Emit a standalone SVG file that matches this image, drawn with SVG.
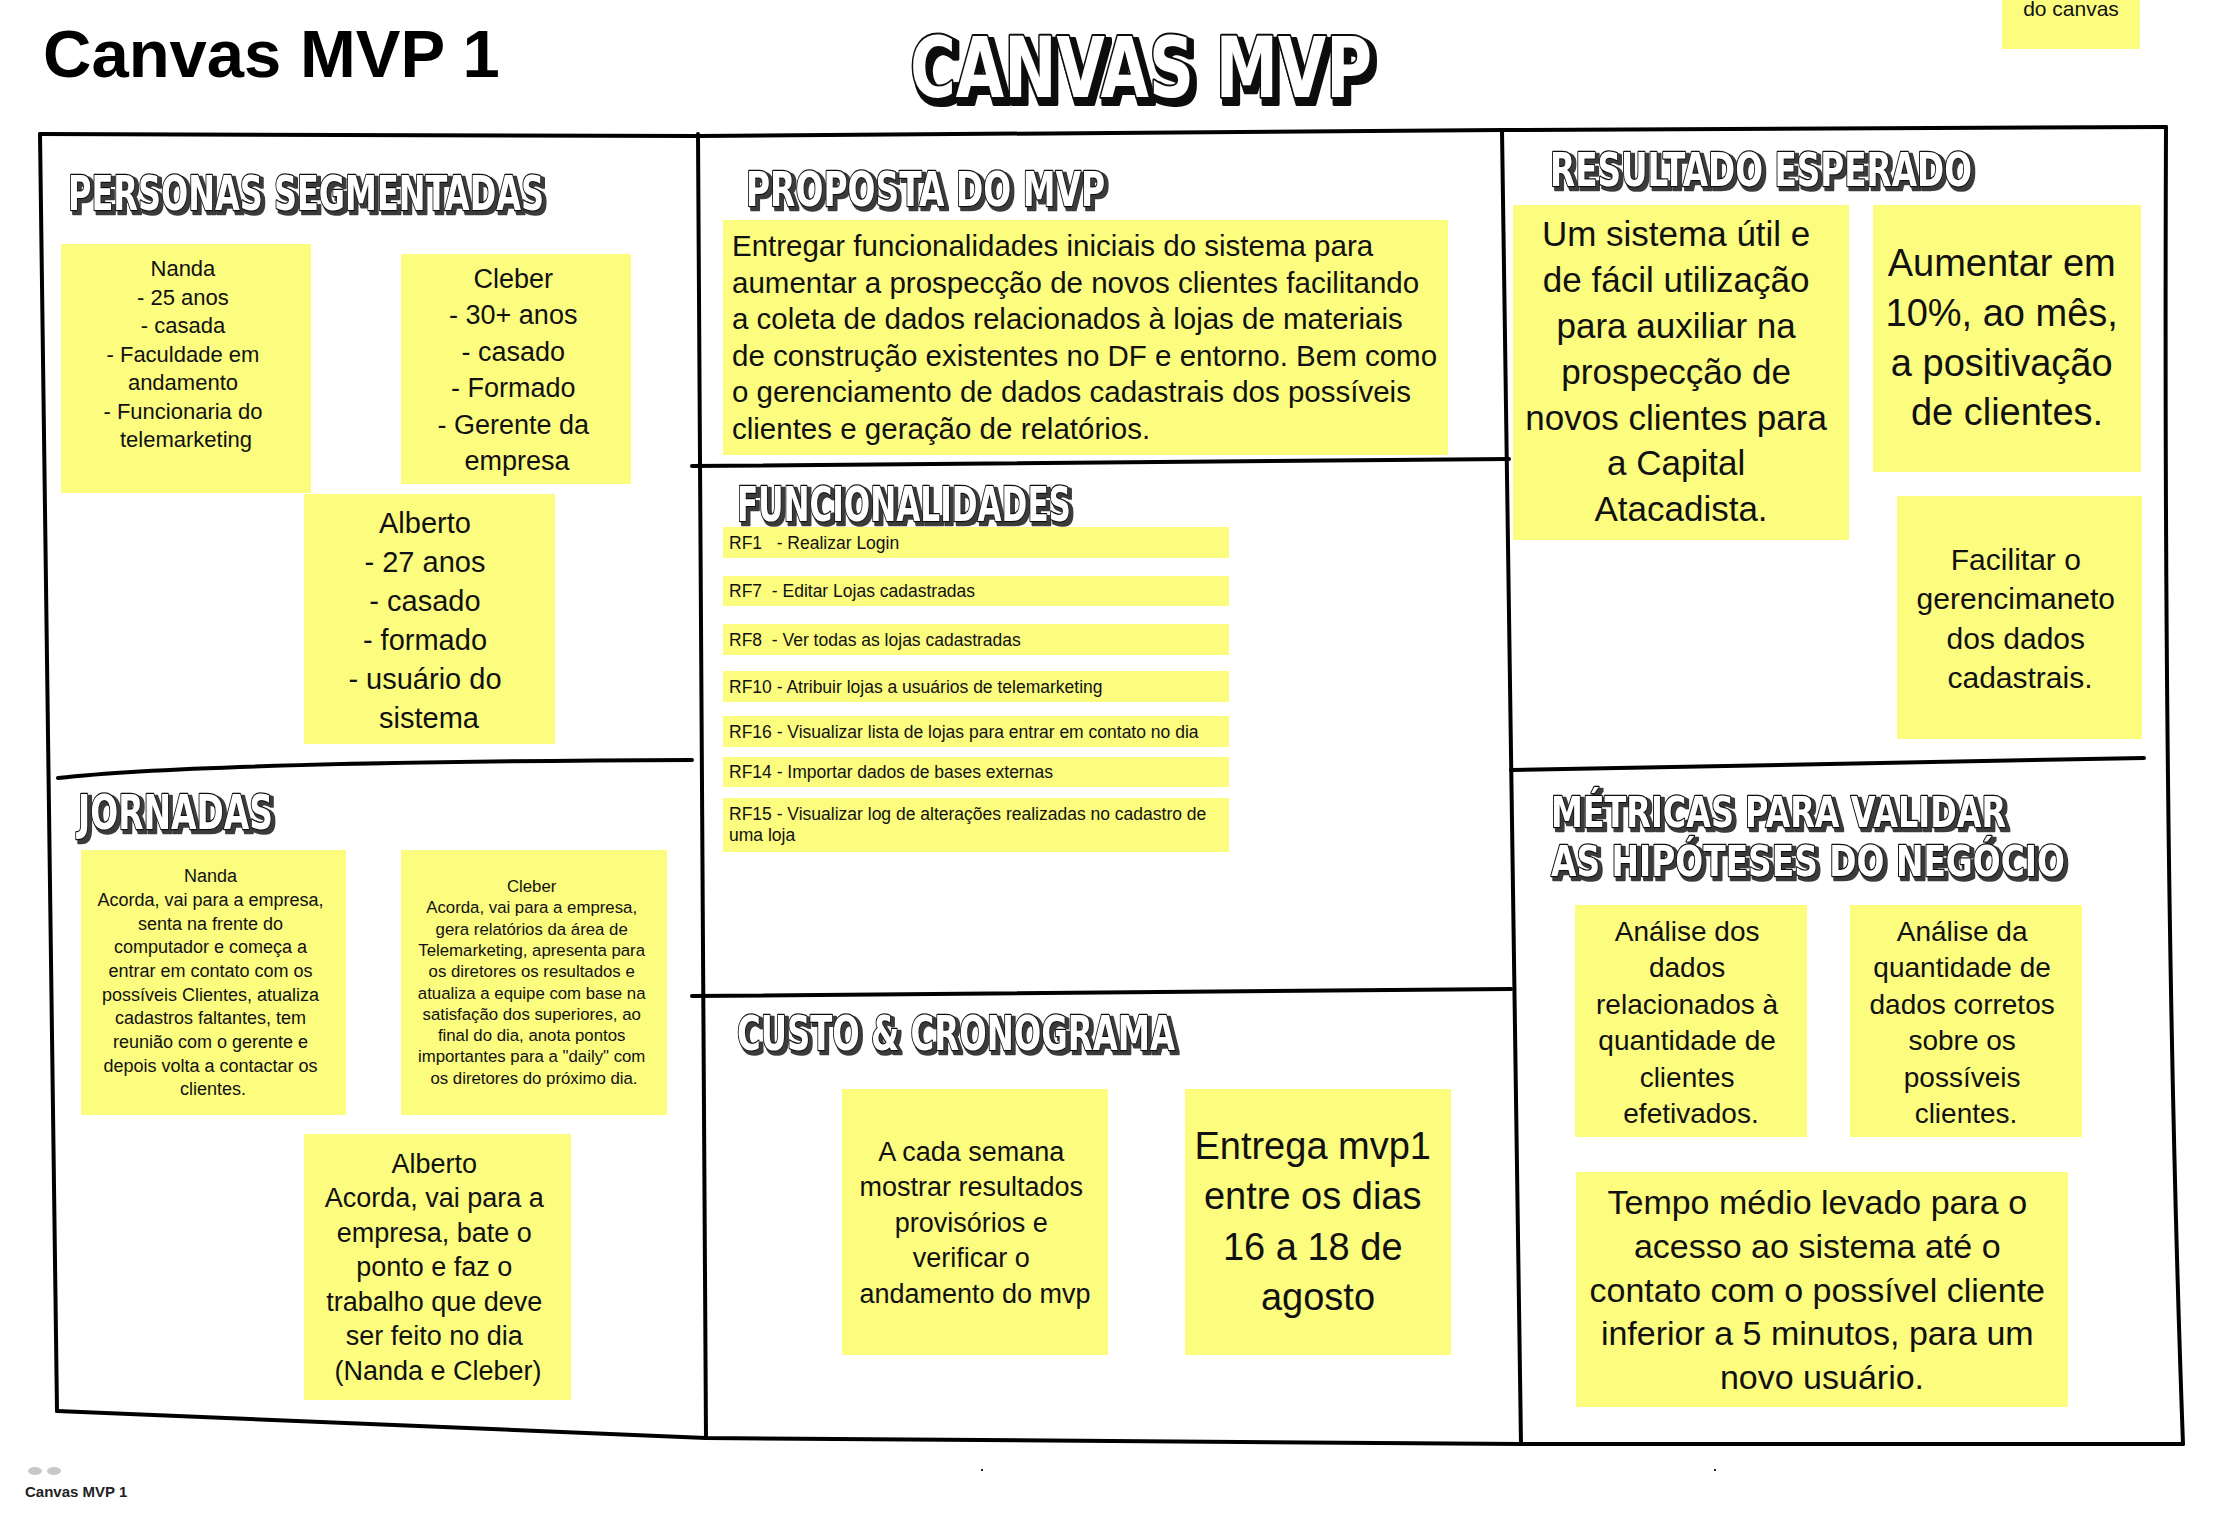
<svg xmlns="http://www.w3.org/2000/svg" width="2215" height="1525" viewBox="0 0 2215 1525">
<style>
.bg{fill:#fff}
.s{fill:#fcfc7f}
.t{font-family:"Liberation Sans",Arial,sans-serif;fill:#111;text-anchor:middle}
.l{font-family:"Liberation Sans",Arial,sans-serif;fill:#111}
.hd{font-family:"DejaVu Sans",sans-serif;font-weight:bold;fill:#fff;stroke:#111;stroke-width:2.5;paint-order:stroke;stroke-linejoin:round;filter:url(#sh)}
.fr{fill:none;stroke:#000;stroke-width:4;stroke-linecap:round;stroke-linejoin:round}
</style>
<defs>
<filter id="sh" x="-5%" y="-40%" width="115%" height="190%">
<feMorphology in="SourceAlpha" operator="dilate" radius="1.2" result="d"/>
<feOffset in="d" dx="3" dy="3" result="o"/>
<feFlood flood-color="#3a3a3a"/>
<feComposite in2="o" operator="in" result="s"/>
<feMerge><feMergeNode in="s"/><feMergeNode in="SourceGraphic"/></feMerge>
</filter>
<filter id="shBig" x="-5%" y="-30%" width="115%" height="170%">
<feMorphology in="SourceAlpha" operator="dilate" radius="2" result="d"/>
<feOffset in="d" dx="4" dy="5" result="o"/>
<feFlood flood-color="#111"/>
<feComposite in2="o" operator="in" result="s"/>
<feMerge><feMergeNode in="s"/><feMergeNode in="SourceGraphic"/></feMerge>
</filter>
</defs>
<rect class="bg" x="0" y="0" width="2215" height="1525"/>

<g id="title">
<text x="43" y="77" style="font-family:'Liberation Sans',Arial,sans-serif;font-weight:bold;font-size:67px;fill:#000">Canvas MVP 1</text>
</g>

<g id="header">
<text class="hd" x="910" y="97" font-size="84" textLength="462" lengthAdjust="spacingAndGlyphs" style="stroke-width:4;filter:url(#shBig)">CANVAS MVP</text>
</g>

<g id="note-do-canvas">
<rect class="s" x="2002" y="0" width="138" height="49"/>
<text class="t" x="2071" y="16" font-size="21">do canvas</text>
</g>

<g id="frame" class="fr">
<path d="M40,134 L698,136 L1502,130 L2166,127"/>
<path d="M40,134 Q47,700 57,1411"/>
<path d="M57,1411 Q400,1426 706,1438 L1521,1444 L2183,1444"/>
<path d="M2166,127 Q2163,900 2183,1444"/>
<path d="M698,134 L706,1438"/>
<path d="M1502,130 L1521,1444"/>
<path d="M58,778 Q200,762 692,760"/>
<path d="M692,466 L1509,459"/>
<path d="M692,996 L1511,989"/>
<path d="M1511,770 L2144,758"/>
</g>

<g id="headings">
<text class="hd" x="68" y="210" font-size="48" textLength="476" lengthAdjust="spacingAndGlyphs">PERSONAS SEGMENTADAS</text>
<text class="hd" x="746" y="206" font-size="48" textLength="359" lengthAdjust="spacingAndGlyphs">PROPOSTA DO MVP</text>
<text class="hd" x="1550" y="186" font-size="46" textLength="422" lengthAdjust="spacingAndGlyphs">RESULTADO ESPERADO</text>
<text class="hd" x="737" y="521" font-size="48" textLength="334" lengthAdjust="spacingAndGlyphs">FUNCIONALIDADES</text>
<text class="hd" x="78" y="829" font-size="48" textLength="195" lengthAdjust="spacingAndGlyphs">JORNADAS</text>
<text class="hd" x="737" y="1050" font-size="48" textLength="438" lengthAdjust="spacingAndGlyphs">CUSTO &amp; CRONOGRAMA</text>
<text class="hd" x="1551" y="827" font-size="42" textLength="455" lengthAdjust="spacingAndGlyphs">MÉTRICAS PARA VALIDAR</text>
<text class="hd" x="1551" y="876" font-size="42" textLength="514" lengthAdjust="spacingAndGlyphs">AS HIPÓTESES DO NEGÓCIO</text>
</g>

<g id="persona-nanda">
<rect class="s" x="61" y="244" width="250" height="249"/>
<text class="t" font-size="22">
<tspan x="186" y="276">Nanda</tspan>
<tspan x="186" y="304.5">- 25 anos</tspan>
<tspan x="186" y="333">- casada</tspan>
<tspan x="186" y="361.5">- Faculdade em</tspan>
<tspan x="186" y="390">andamento</tspan>
<tspan x="186" y="418.5">- Funcionaria do</tspan>
<tspan x="186" y="447">telemarketing</tspan>
</text>
</g>

<g id="persona-cleber">
<rect class="s" x="401" y="254" width="230" height="230"/>
<text class="t" font-size="27">
<tspan x="517" y="288">Cleber</tspan>
<tspan x="517" y="324.4">- 30+ anos</tspan>
<tspan x="517" y="360.8">- casado</tspan>
<tspan x="517" y="397.2">- Formado</tspan>
<tspan x="517" y="433.6">- Gerente da</tspan>
<tspan x="517" y="470">empresa</tspan>
</text>
</g>

<g id="persona-alberto">
<rect class="s" x="304" y="494" width="251" height="250"/>
<text class="t" font-size="29">
<tspan x="429" y="533">Alberto</tspan>
<tspan x="429" y="572">- 27 anos</tspan>
<tspan x="429" y="611">- casado</tspan>
<tspan x="429" y="650">- formado</tspan>
<tspan x="429" y="689">- usuário do</tspan>
<tspan x="429" y="728">sistema</tspan>
</text>
</g>

<g id="proposta">
<rect class="s" x="723" y="220" width="725" height="235"/>
<text class="l" font-size="29.5">
<tspan x="732" y="256">Entregar funcionalidades iniciais do sistema para</tspan>
<tspan x="732" y="292.6">aumentar a prospecção de novos clientes facilitando</tspan>
<tspan x="732" y="329.2">a coleta de dados relacionados à lojas de materiais</tspan>
<tspan x="732" y="365.8">de construção existentes no DF e entorno. Bem como</tspan>
<tspan x="732" y="402.4">o gerenciamento de dados cadastrais dos possíveis</tspan>
<tspan x="732" y="439">clientes e geração de relatórios.</tspan>
</text>
</g>

<g id="resultado-sistema">
<rect class="s" x="1513" y="205" width="336" height="335"/>
<text class="t" font-size="35">
<tspan x="1681" y="246">Um sistema útil e</tspan>
<tspan x="1681" y="292">de fácil utilização</tspan>
<tspan x="1681" y="338">para auxiliar na</tspan>
<tspan x="1681" y="384">prospecção de</tspan>
<tspan x="1681" y="430">novos clientes para</tspan>
<tspan x="1681" y="475">a Capital</tspan>
<tspan x="1681" y="521">Atacadista.</tspan>
</text>
</g>

<g id="resultado-aumentar">
<rect class="s" x="1873" y="205" width="268" height="267"/>
<text class="t" font-size="38">
<tspan x="2007" y="276">Aumentar em</tspan>
<tspan x="2007" y="326">10%, ao mês,</tspan>
<tspan x="2007" y="376">a positivação</tspan>
<tspan x="2007" y="425">de clientes.</tspan>
</text>
</g>

<g id="resultado-facilitar">
<rect class="s" x="1897" y="496" width="245" height="243"/>
<text class="t" font-size="30">
<tspan x="2020" y="570">Facilitar o</tspan>
<tspan x="2020" y="609">gerencimaneto</tspan>
<tspan x="2020" y="649">dos dados</tspan>
<tspan x="2020" y="688">cadastrais.</tspan>
</text>
</g>

<g id="funcionalidades">
<rect class="s" x="723" y="527" width="506" height="31"/>
<rect class="s" x="723" y="576" width="506" height="30"/>
<rect class="s" x="723" y="624" width="506" height="31"/>
<rect class="s" x="723" y="671" width="506" height="31"/>
<rect class="s" x="723" y="716" width="506" height="31"/>
<rect class="s" x="723" y="757" width="506" height="30"/>
<rect class="s" x="723" y="798" width="506" height="54"/>
<text class="l" font-size="17.5" xml:space="preserve">
<tspan x="729" y="548.5">RF1   - Realizar Login</tspan>
<tspan x="729" y="597">RF7  - Editar Lojas cadastradas</tspan>
<tspan x="729" y="645.5">RF8  - Ver todas as lojas cadastradas</tspan>
<tspan x="729" y="692.5">RF10 - Atribuir lojas a usuários de telemarketing</tspan>
<tspan x="729" y="737.5">RF16 - Visualizar lista de lojas para entrar em contato no dia</tspan>
<tspan x="729" y="778">RF14 - Importar dados de bases externas</tspan>
<tspan x="729" y="820">RF15 - Visualizar log de alterações realizadas no cadastro de</tspan>
<tspan x="729" y="841">uma loja</tspan>
</text>
</g>

<g id="jornada-nanda">
<rect class="s" x="81" y="850" width="265" height="265"/>
<text class="t" font-size="18">
<tspan x="213" y="882">Nanda</tspan>
<tspan x="213" y="906">Acorda, vai para a empresa,</tspan>
<tspan x="213" y="930">senta na frente do</tspan>
<tspan x="213" y="953">computador e começa a</tspan>
<tspan x="213" y="977">entrar em contato com os</tspan>
<tspan x="213" y="1001">possíveis Clientes, atualiza</tspan>
<tspan x="213" y="1024">cadastros faltantes, tem</tspan>
<tspan x="213" y="1048">reunião com o gerente e</tspan>
<tspan x="213" y="1072">depois volta a contactar os</tspan>
<tspan x="213" y="1095">clientes.</tspan>
</text>
</g>

<g id="jornada-cleber">
<rect class="s" x="401" y="850" width="266" height="265"/>
<text class="t" font-size="16.8">
<tspan x="534" y="892">Cleber</tspan>
<tspan x="534" y="913.3">Acorda, vai para a empresa,</tspan>
<tspan x="534" y="934.6">gera relatórios da área de</tspan>
<tspan x="534" y="955.9">Telemarketing, apresenta para</tspan>
<tspan x="534" y="977.2">os diretores os resultados e</tspan>
<tspan x="534" y="998.5">atualiza a equipe com base na</tspan>
<tspan x="534" y="1019.8">satisfação dos superiores, ao</tspan>
<tspan x="534" y="1041.1">final do dia, anota pontos</tspan>
<tspan x="534" y="1062.4">importantes para a "daily" com</tspan>
<tspan x="534" y="1083.7">os diretores do próximo dia.</tspan>
</text>
</g>

<g id="jornada-alberto">
<rect class="s" x="304" y="1134" width="267" height="266"/>
<text class="t" font-size="27">
<tspan x="438" y="1172.5">Alberto</tspan>
<tspan x="438" y="1207">Acorda, vai para a</tspan>
<tspan x="438" y="1241.5">empresa, bate o</tspan>
<tspan x="438" y="1276">ponto e faz o</tspan>
<tspan x="438" y="1310.5">trabalho que deve</tspan>
<tspan x="438" y="1345">ser feito no dia</tspan>
<tspan x="438" y="1379.5">(Nanda e Cleber)</tspan>
</text>
</g>

<g id="custo-semana">
<rect class="s" x="842" y="1089" width="266" height="266"/>
<text class="t" font-size="27">
<tspan x="975" y="1160.5">A cada semana</tspan>
<tspan x="975" y="1196">mostrar resultados</tspan>
<tspan x="975" y="1231.5">provisórios e</tspan>
<tspan x="975" y="1267">verificar o</tspan>
<tspan x="975" y="1302.5">andamento do mvp</tspan>
</text>
</g>

<g id="custo-entrega">
<rect class="s" x="1185" y="1089" width="266" height="266"/>
<text class="t" font-size="38">
<tspan x="1318" y="1159">Entrega mvp1</tspan>
<tspan x="1318" y="1209">entre os dias</tspan>
<tspan x="1318" y="1260">16 a 18 de</tspan>
<tspan x="1318" y="1310">agosto</tspan>
</text>
</g>

<g id="metrica-analise-dados">
<rect class="s" x="1575" y="905" width="232" height="232"/>
<text class="t" font-size="28">
<tspan x="1691" y="941">Análise dos</tspan>
<tspan x="1691" y="977">dados</tspan>
<tspan x="1691" y="1014">relacionados à</tspan>
<tspan x="1691" y="1050">quantidade de</tspan>
<tspan x="1691" y="1087">clientes</tspan>
<tspan x="1691" y="1123">efetivados.</tspan>
</text>
</g>

<g id="metrica-analise-quantidade">
<rect class="s" x="1850" y="905" width="232" height="232"/>
<text class="t" font-size="28">
<tspan x="1966" y="941">Análise da</tspan>
<tspan x="1966" y="977">quantidade de</tspan>
<tspan x="1966" y="1014">dados corretos</tspan>
<tspan x="1966" y="1050">sobre os</tspan>
<tspan x="1966" y="1087">possíveis</tspan>
<tspan x="1966" y="1123">clientes.</tspan>
</text>
</g>

<g id="metrica-tempo">
<rect class="s" x="1576" y="1172" width="492" height="235"/>
<text class="t" font-size="34">
<tspan x="1822" y="1214">Tempo médio levado para o</tspan>
<tspan x="1822" y="1258">acesso ao sistema até o</tspan>
<tspan x="1822" y="1302">contato com o possível cliente</tspan>
<tspan x="1822" y="1345">inferior a 5 minutos, para um</tspan>
<tspan x="1822" y="1389">novo usuário.</tspan>
</text>
</g>

<g id="footer">
<ellipse cx="35" cy="1471" rx="7" ry="4" fill="#c8c8c8"/>
<ellipse cx="54" cy="1471" rx="7" ry="4" fill="#c8c8c8"/>
<text x="25" y="1497" style="font-family:'Liberation Sans',Arial,sans-serif;font-weight:bold;font-size:15px;fill:#222">Canvas MVP 1</text>
<rect x="981" y="1469" width="2" height="2" fill="#222"/>
<rect x="1714" y="1469" width="2" height="2" fill="#222"/>
</g>
</svg>
